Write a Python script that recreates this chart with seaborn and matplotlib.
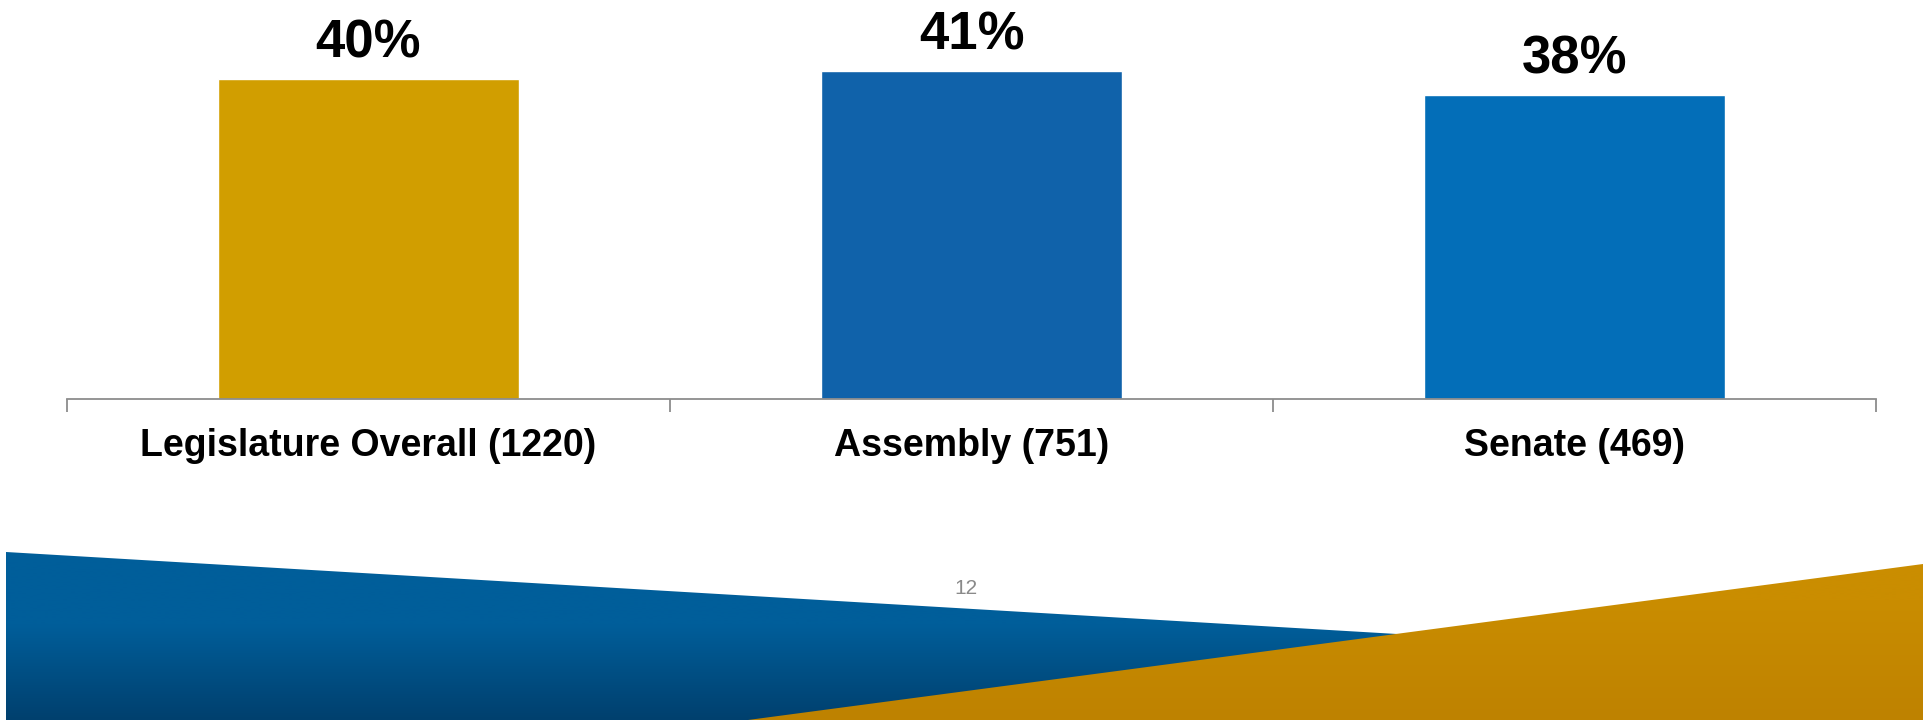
import numpy as np
import matplotlib
matplotlib.use("Agg")
import matplotlib.pyplot as plt
from matplotlib.patches import Polygon
import seaborn as sns
import pandas as pd

# Chart data
categories = ["Legislature Overall (1220)", "Assembly (751)", "Senate (469)"]
values = [40, 41, 38]
value_labels = ["40%", "41%", "38%"]
bar_colors = ["#D19E00", "#1062AA", "#036EB8"]
page_number = "12"

sns.set_theme(style="white")
plt.rcParams["font.family"] = ["Liberation Sans", "DejaVu Sans"]

W, H, DPI = 1923, 720, 100
fig = plt.figure(figsize=(W / DPI, H / DPI), dpi=DPI)
fig.patch.set_facecolor("white")

# Decorative footer band drawn in pixel space
deco = fig.add_axes([0, 0, 1, 1], zorder=0)
deco.set_xlim(0, W)
deco.set_ylim(H, 0)
deco.axis("off")


def gradient_fill(ax, verts, top_rgb, bottom_rgb, y0, y_start, y1):
    """Fill polygon with a vertical gradient: flat from y0 to y_start,
    then linear to bottom_rgb at y1."""
    poly = Polygon(verts, closed=True, facecolor="none", edgecolor="none")
    ax.add_patch(poly)
    n = 256
    ys = np.linspace(y0, y1, n)
    t = np.clip((ys - y_start) / (y1 - y_start), 0, 1)[:, None]
    top = np.array(top_rgb) / 255.0
    bot = np.array(bottom_rgb) / 255.0
    img = top[None, None, :] * (1 - t[..., None]) + bot[None, None, :] * t[..., None]
    img = np.repeat(img, 2, axis=1)
    im = ax.imshow(img, extent=[0, W, y1, y0], aspect="auto",
                   interpolation="bilinear", zorder=poly.get_zorder())
    im.set_clip_path(poly)


# blue wedge
gradient_fill(deco, [(6, 552), (W, 665), (W, H), (6, H)],
              (0, 94, 154), (0, 64, 110), 550, 625, H)
# gold wedge
gradient_fill(deco, [(748, H), (W, 564), (W, H)],
              (202, 141, 0), (190, 130, 0), 562, 600, H)

deco.text(966, 589, page_number, ha="center", va="center",
          fontsize=15, color="#8a8a8a")

# Main bar chart
ax = fig.add_axes([67 / W, 1 - 398.5 / H, (1876 - 67) / W, 398.5 / H], zorder=1)
ax.patch.set_alpha(0)
df = pd.DataFrame({"category": categories, "value": values})
sns.barplot(data=df, x="category", y="value", hue="category",
            palette=bar_colors, width=0.5, legend=False, ax=ax,
            saturation=1)

ax.set_xlim(-0.5, len(categories) - 0.5)
ax.set_ylim(0, 398.5 / 8.0)
ax.set_xlabel("")
ax.set_ylabel("")
ax.set_yticks([])
for side in ["left", "right", "top"]:
    ax.spines[side].set_visible(False)
ax.spines["bottom"].set_color("#8c8c8c")
ax.spines["bottom"].set_linewidth(1.3)

ax.tick_params(axis="x", which="major", length=0, pad=21,
               labelsize=27, labelcolor="black")
for lbl in ax.get_xticklabels():
    lbl.set_fontweight("bold")
ax.set_xticks(np.arange(-0.5, len(categories)), minor=True)
ax.tick_params(axis="x", which="minor", bottom=True, length=9,
               width=1.3, color="#8c8c8c", direction="out")

for i, (v, txt) in enumerate(zip(values, value_labels)):
    ax.annotate(txt, (i, v), xytext=(0, 15), textcoords="offset points",
                ha="center", va="baseline", fontsize=38,
                fontweight="bold", color="black", annotation_clip=False)

fig.savefig("out.png", dpi=DPI, facecolor="white")
